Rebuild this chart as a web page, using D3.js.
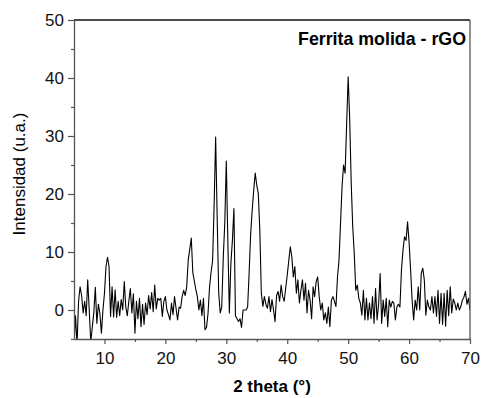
<!DOCTYPE html>
<html>
<head>
<meta charset="utf-8">
<script src="https://cdn.jsdelivr.net/npm/d3@7"></script>
<style>
  body { margin: 0; background: #fff; }
  text { font-family: "Liberation Sans", Arial, sans-serif; }
</style>
</head>
<body>
<svg id="svg" width="481" height="398"></svg>
<script>
// XRD pattern, 2theta from 5 to 70 in 0.25 deg steps
var theta0 = 5, step = 0.25;

var intensity = [
  -6, -1, -6, 1.5,       4, 2.5, -0.5, 1.5,     -1, 5.2, 0, -5.5,
  -3, -0.5, 3.9, -2.3,   1, -0.6, -4, 0,        2.9, 7.5, 9.1, 7.5,
  -1.1, 4, -1.2, 3.5,    -1.3, 1.5, -1, 1.8,    0, 4.9, 0.5, -1,
  1.5, 3.7, -0.5, 2.8,   -4, 1.5, -1.5, 2,      -2.9, 1, -2.5, 1.2,
  -0.8, 2.5, 0.2, 3,     -0.3, 4.3, 0.2, 2,     1.7, 2, -1.1, 1.5,
  2.3, 0, -0.8, -1.7,    1.2, -0.8, 2.3, 0.3,   -1.7, 0.5, 0.3, 2.3,
  3.4, 2.5, 4, 8.6,      10.5, 12.4, 6.5, 5,    3.5, 2.3, 0, 1.7,
  -1, 2, -3.4, -3,       -0.6, 4, 6.5, 8.5,     18, 29.8, 16, 3,
  -0.5, 0.5, 9, 15,      25.7, 12, -0.5, 8,     12, 17.5, -1, -1.5,
  -2, -1.5, -3, 0,       0, 0, 0.5, 6.5,        13.2, 17.2, 20.7, 23.6,
  21.5, 20.1, 13.8, 2.9, 0.6, 2.3, 1, 0.3,      2.3, -0.3, 1.8, 0,
  -2, 2.5, 3.2, 1.5,     4.3, 2.3, 1.5, 3.8,    6, 8.5, 10.9, 9.2,
  5.7, 7.5, 2.9, 5.2,    1.2, 3.4, 5.2, 1.7,    4.6, -0.5, 3.4, 1.7,
  -1.5, 4, 2.3, 4.9,     5.7, 2.3, 0, 1.2,      -1.7, -0.5, -2.3, 0.5,
  -2.9, 1.7, 2.3, 1.5,   0.6, 5.7, 8.6, 15,     21.3, 25, 23.6, 32,
  40.2, 33, 22, 14.4,    9.8, 3.4, 4.3, 2,      1.2, -0.9, 3.4, -1.7,
  2, -1.7, 1.2, -1.5,    2.3, -2.3, 3.7, -1.7,  1, 6.3, -2.3, 1.7,
  -1.1, 2, -2.9, 1.7,    0.5, 1.5, 1.2, -1.7,   0.5, 1, 0.5, 6.9,
  10.3, 12.6, 12, 15.2,  11.7, 6.9, 1.7, -1.7,  1.7, 0, 4, 0,
  6.3, 7.2, 5.2, -0.9,   1.7, 0.5, 0, 2.3,      -0.5, 2.3, -1.1, 3.4,
  -2.3, 2.9, -2.5, 2.9,  -2.8, 3.4, -1, 4,      -0.5, 1.9, 1.2, 0,
  1.2, 0, 0.6, 1.7,      2.2, 3.2, 1, 2,        0
];

var xTicks = [10, 20, 30, 40, 50, 60, 70];
var xMinor = [15, 25, 35, 45, 55, 65];
var yTicks = [0, 10, 20, 30, 40, 50];
var yMinor = [-5, 5, 15, 25, 35, 45];

var title = "Ferrita molida - rGO";
var xLabel = "2 theta (°)";
var yLabel = "Intensidad (u.a.)";

var data = intensity.map(function(v, i) { return {x: theta0 + i * step, y: v}; });

var mLeft = 74, mRight = 470, mTop = 20, mBottom = 339;

var svg = d3.select("#svg");

var x = d3.scaleLinear().domain([5, 70]).range([mLeft, mRight]);
var y = d3.scaleLinear().domain([-5, 50]).range([mBottom, mTop]);

svg.append("clipPath").attr("id", "clip")
  .append("rect")
  .attr("x", mLeft).attr("y", mTop)
  .attr("width", mRight - mLeft).attr("height", mBottom - mTop);

// curve
svg.append("path")
  .datum(data)
  .attr("clip-path", "url(#clip)")
  .attr("fill", "none")
  .attr("stroke", "#000")
  .attr("stroke-width", 1.1)
  .attr("stroke-linejoin", "round")
  .attr("d", d3.line().x(function(d) { return x(d.x); }).y(function(d) { return y(d.y); }));

// frame top / right
svg.append("line")
  .attr("x1", mLeft).attr("x2", mRight).attr("y1", mTop).attr("y2", mTop)
  .attr("stroke", "#111").attr("stroke-width", 1.3);
svg.append("line")
  .attr("x1", mRight).attr("x2", mRight).attr("y1", mTop).attr("y2", mBottom)
  .attr("stroke", "#555").attr("stroke-width", 1.3);

// minor ticks
svg.append("g")
  .attr("transform", "translate(0," + mBottom + ")")
  .call(d3.axisBottom(x).tickValues(xMinor).tickSize(3).tickFormat(""))
  .call(function(g) { g.select(".domain").remove(); });
svg.append("g")
  .attr("transform", "translate(" + mLeft + ",0)")
  .call(d3.axisLeft(y).tickValues(yMinor).tickSize(3).tickFormat(""))
  .call(function(g) { g.select(".domain").remove(); });

// major axes
var xAxis = svg.append("g")
  .attr("transform", "translate(0," + mBottom + ")")
  .call(d3.axisBottom(x).tickValues(xTicks).tickSize(5).tickSizeOuter(0).tickPadding(8));
var yAxis = svg.append("g")
  .attr("transform", "translate(" + mLeft + ",0)")
  .call(d3.axisLeft(y).tickValues(yTicks).tickSize(6).tickSizeOuter(0).tickPadding(4));

svg.selectAll(".tick line").attr("stroke", "#555").attr("stroke-width", 1.2);
xAxis.select(".domain").attr("stroke", "#555").attr("stroke-width", 1.3);
yAxis.select(".domain").attr("stroke", "#555").attr("stroke-width", 1.3);
svg.selectAll(".tick text")
  .attr("font-family", "Liberation Sans, Arial, sans-serif")
  .attr("font-size", "17px")
  .attr("fill", "#111");

// titles
svg.append("text")
  .attr("x", 466).attr("y", 45)
  .attr("text-anchor", "end")
  .attr("font-size", "17.8px")
  .attr("font-weight", "bold")
  .text(title);

svg.append("text")
  .attr("x", 272).attr("y", 392)
  .attr("text-anchor", "middle")
  .attr("font-size", "17px")
  .attr("font-weight", "bold")
  .text(xLabel);

svg.append("text")
  .attr("transform", "translate(25,174) rotate(-90)")
  .attr("text-anchor", "middle")
  .attr("font-size", "17px")
  .text(yLabel);
</script>
</body>
</html>
